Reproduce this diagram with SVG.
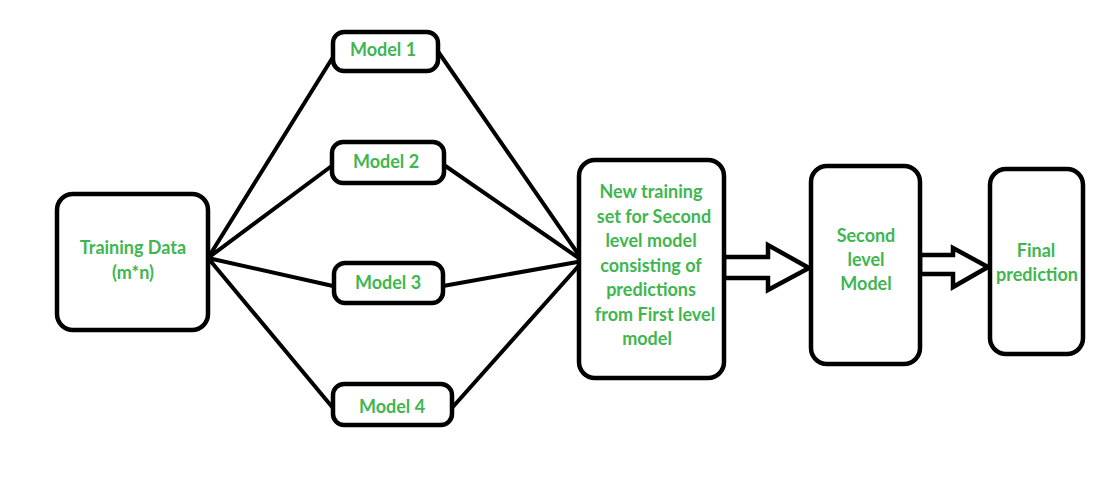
<svg xmlns="http://www.w3.org/2000/svg" width="1118" height="504" viewBox="0 0 1118 504">
<style>
.box{fill:#fff;stroke:#000;stroke-width:4.5}
.ln{stroke:#000;stroke-width:4;fill:none;stroke-linecap:round}
.arr{fill:#fff;stroke:#000;stroke-width:4.5;stroke-linejoin:miter}
.t{font-family:Lato,"Open Sans",sans-serif;font-weight:bold;font-size:18px;fill:#3fb650;text-anchor:middle}
</style>
<rect width="1118" height="504" fill="#fff"/>
<g id="connectors">
<path class="ln" d="M208 258 L333 57 M208 258 L333 165 M208 258 L333 286 M208 258 L333 408"/>
<path class="ln" d="M437 50 L583 261 M444 165 L583 261 M443 286 L583 261 M451 409 L583 261"/>
<path class="arr" d="M724 257 L768 257 L768 245 L809 268 L768 290 L768 278 L724 278 Z"/>
<path class="arr" d="M920 255 L953 255 L953 248 L988 267 L953 287 L953 274 L920 274 Z"/>
</g>
<g id="training">
<rect class="box" x="57" y="194" width="151" height="136" rx="16"/>
<text class="t" x="133" y="254">Training Data</text>
<text class="t" x="133" y="279">(m*n)</text>
</g>
<g id="model1">
<rect class="box" x="333" y="32" width="105" height="39" rx="11"/>
<text class="t" x="383" y="56">Model 1</text>
</g>
<g id="model2">
<rect class="box" x="332" y="142" width="112" height="41" rx="11"/>
<text class="t" x="386" y="168">Model 2</text>
</g>
<g id="model3">
<rect class="box" x="334" y="263" width="109" height="40" rx="11"/>
<text class="t" x="388" y="289">Model 3</text>
</g>
<g id="model4">
<rect class="box" x="333" y="384" width="119" height="41" rx="11"/>
<text class="t" x="392" y="413">Model 4</text>
</g>
<g id="newset">
<rect class="box" x="579" y="160" width="145" height="218" rx="16"/>
<text class="t" x="651" y="198">New training</text>
<text class="t" x="654" y="223">set for Second</text>
<text class="t" x="651" y="247">level model</text>
<text class="t" x="651" y="272">consisting of</text>
<text class="t" x="651" y="296">predictions</text>
<text class="t" x="655" y="321">from First level</text>
<text class="t" x="647" y="345">model</text>
</g>
<g id="second">
<rect class="box" x="811" y="166" width="109" height="198" rx="16"/>
<text class="t" x="866" y="242">Second</text>
<text class="t" x="866" y="266">level</text>
<text class="t" x="866" y="290">Model</text>
</g>
<g id="final">
<rect class="box" x="990" y="169" width="93" height="185" rx="16"/>
<text class="t" x="1036" y="257">Final</text>
<text class="t" x="1037" y="281">prediction</text>
</g>
</svg>
